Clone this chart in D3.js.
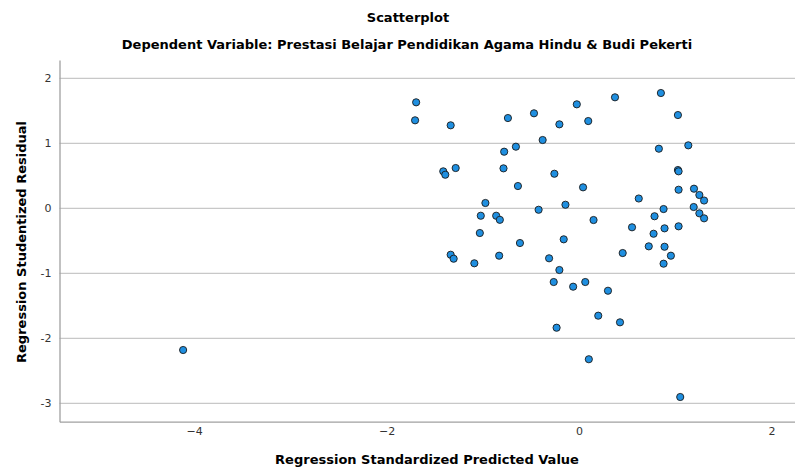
<!DOCTYPE html>
<html>
<head>
<meta charset="utf-8">
<script src="https://cdn.jsdelivr.net/npm/d3@7"></script>
<style>
  body { margin: 0; background: #fff; }
  text { font-family: "DejaVu Sans", sans-serif; }
</style>
</head>
<body>
<div id="chart"></div>
<script>
// predicted values (x) and studentized residuals (y)
var predicted = [-4.115, -1.693, -1.704, -1.334, -0.739, -0.468, -0.023, -0.204, 0.096, -0.378,
  -0.656, -0.778, -1.411, -1.390, -1.282, -0.785, -0.256, -0.635, 0.042, -0.973,
  -0.420, -0.141, -1.021, -0.861, -0.823, 0.151, -1.031, -0.614, -0.159, -1.334,
  -1.303, -1.088, -0.830, -0.311, -0.204, -0.263, -0.061, 0.065, -0.233, 0.374,
  0.851, 1.028, 0.830, 1.136, 1.028, 1.035, 0.621, 1.035, 1.195, 1.251,
  1.300, 0.879, 1.192, 1.251, 1.300, 0.785, 0.551, 0.775, 0.889, 1.035,
  0.725, 0.889, 0.955, 0.879, 0.454, 0.301, 0.200, 0.426, 0.102, 1.052];
var residual = [-2.18, 1.631, 1.354, 1.277, 1.389, 1.462, 1.600, 1.292, 1.343, 1.051,
  0.948, 0.871, 0.569, 0.517, 0.620, 0.615, 0.532, 0.343, 0.323, 0.082,
  -0.022, 0.055, -0.114, -0.114, -0.177, -0.180, -0.380, -0.534, -0.477, -0.714,
  -0.775, -0.846, -0.729, -0.769, -0.949, -1.134, -1.206, -1.134, -1.837, 1.708,
  1.774, 1.435, 0.917, 0.969, 0.589, 0.569, 0.151, 0.286, 0.302, 0.205,
  0.120, -0.011, 0.020, -0.077, -0.154, -0.122, -0.292, -0.391, -0.308, -0.277,
  -0.585, -0.591, -0.729, -0.852, -0.688, -1.268, -1.652, -1.754, -2.322, -2.903];
var xTicks = [-4, -2, 0, 2];
var yTicks = [-3, -2, -1, 0, 1, 2];

var width = 795, height = 469;
var plotLeft = 59.5, plotRight = 795, plotTop = 60, plotBottom = 421.7;

var svg = d3.select("#chart").append("svg")
    .attr("width", width)
    .attr("height", height);

var x = d3.scaleLinear().domain([-5.4, 2.245]).range([plotLeft, plotRight]);
var y = d3.scaleLinear().domain([-3.283, 2.282]).range([plotBottom, plotTop]);

// gridlines
svg.append("g")
    .selectAll("line")
    .data(yTicks)
    .enter()
    .append("line")
    .attr("x1", plotLeft)
    .attr("x2", plotRight)
    .attr("y1", function (d) { return y(d); })
    .attr("y2", function (d) { return y(d); })
    .attr("stroke", "#c8c8c8")
    .attr("stroke-width", 1.3);

// y axis (plain hyphen minus, as in the picture)
var yAxis = svg.append("g")
    .attr("transform", "translate(" + plotLeft + ",0)")
    .call(d3.axisLeft(y).tickValues(yTicks).tickSize(0).tickPadding(8).tickFormat(function (d) { return String(d); }));
yAxis.select(".domain").attr("stroke", "#a0a0a0").attr("stroke-width", 1.3);
yAxis.selectAll("text").attr("font-size", 11).attr("fill", "#333");

// x axis
var xAxis = svg.append("g")
    .attr("transform", "translate(0," + plotBottom + ")")
    .call(d3.axisBottom(x).tickValues(xTicks).tickSize(0).tickPadding(6));
xAxis.select(".domain").attr("stroke", "#a0a0a0").attr("stroke-width", 1.3);
xAxis.selectAll("text").attr("font-size", 11).attr("fill", "#333")
    .text(function (d) { return d < 0 ? "\u2212" + Math.abs(d) : d; });

// points
svg.append("g")
    .selectAll("circle")
    .data(predicted)
    .enter()
    .append("circle")
    .attr("cx", function (d) { return x(d); })
    .attr("cy", function (d, i) { return y(residual[i]); })
    .attr("r", 3.6)
    .attr("fill", "#1f8fe0")
    .attr("stroke", "#1a1a1a")
    .attr("stroke-width", 0.9);

// titles
svg.append("text")
    .attr("x", 408).attr("y", 22)
    .attr("text-anchor", "middle")
    .attr("font-size", 13).attr("font-weight", "bold")
    .text("Scatterplot");
svg.append("text")
    .attr("x", 407).attr("y", 49)
    .attr("text-anchor", "middle")
    .attr("font-size", 13).attr("font-weight", "bold")
    .text("Dependent Variable: Prestasi Belajar Pendidikan Agama Hindu & Budi Pekerti");

svg.append("text")
    .attr("x", 427).attr("y", 464)
    .attr("text-anchor", "middle")
    .attr("font-size", 13).attr("font-weight", "bold")
    .text("Regression Standardized Predicted Value");
svg.append("text")
    .attr("transform", "translate(26," + 242 + ") rotate(-90)")
    .attr("text-anchor", "middle")
    .attr("font-size", 13).attr("font-weight", "bold")
    .text("Regression Studentized Residual");
</script>
</body>
</html>
